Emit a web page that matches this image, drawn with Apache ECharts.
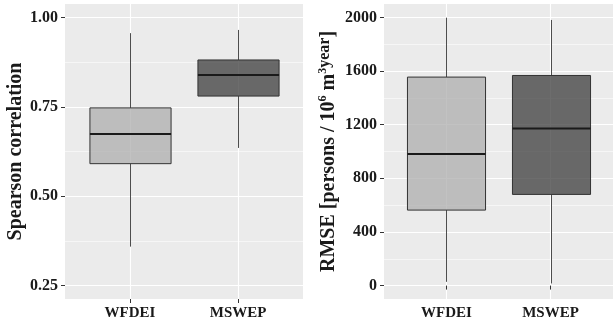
<!DOCTYPE html>
<html>
<head>
<meta charset="utf-8">
<script src="https://cdn.jsdelivr.net/npm/echarts@6/dist/echarts.min.js"></script>
<style>
  html, body { margin: 0; padding: 0; background: #fff; }
  #main { width: 613px; height: 326px; }
</style>
</head>
<body>
<div id="main"></div>
<script>
// categories along x, one box per category
var categories = ['WFDEI', 'MSWEP'];
// box stats: [min, Q1, median, Q3, max]
var corrStats = [
  [0.359, 0.591, 0.674, 0.747, 0.956],
  [0.635, 0.780, 0.839, 0.881, 0.965]
];
var rmseStats = [
  [28, 563, 982, 1555, 1998],
  [16, 680, 1171, 1567, 1981]
];
var corrTicks = [0.25, 0.5, 0.75, 1.0];
var corrMinor = [0.375, 0.625, 0.875];
var rmseTicks = [0, 400, 800, 1200, 1600, 2000];
var rmseMinor = [200, 600, 1000, 1400, 1800];

var boxFill = ['rgba(171,171,171,0.72)', 'rgba(52,52,52,0.72)'];
var serif = 'Liberation Serif';
var textCol = '#1a1a1a';

function toData(stats) {
  return stats.map(function(s, i) { return [i + 1].concat(s); });
}

function renderBox(params, api) {
  var x = api.value(0);
  var lo = api.coord([x, api.value(1)]);
  var q1 = api.coord([x, api.value(2)]);
  var md = api.coord([x, api.value(3)]);
  var q3 = api.coord([x, api.value(4)]);
  var hi = api.coord([x, api.value(5)]);
  var half = api.size([0.75, 0])[0] / 2;
  var cx = Math.round(lo[0]) + 0.5;
  return {
    type: 'group',
    children: [
      { type: 'line', shape: { x1: cx, y1: lo[1], x2: cx, y2: q1[1] }, style: { stroke: '#4d4d4d', lineWidth: 1 } },
      { type: 'line', shape: { x1: cx, y1: q3[1], x2: cx, y2: hi[1] }, style: { stroke: '#4d4d4d', lineWidth: 1 } },
      { type: 'rect', shape: { x: cx - half, y: q3[1], width: half * 2, height: q1[1] - q3[1] },
        style: { fill: boxFill[params.dataIndex], stroke: '#333', lineWidth: 1 } },
      { type: 'line', shape: { x1: cx - half, y1: md[1], x2: cx + half, y2: md[1] }, style: { stroke: '#1a1a1a', lineWidth: 2 } }
    ]
  };
}

function xAxisFor(gridIndex) {
  return {
    type: 'value', gridIndex: gridIndex, min: 0.4, max: 2.6,
    axisLine: { show: false },
    axisTick: { show: true, customValues: [1, 2], length: 4, lineStyle: { color: '#333' } },
    axisLabel: {
      customValues: [1, 2], margin: 7,
      formatter: function(v) { return categories[Math.round(v) - 1]; },
      fontFamily: serif, fontWeight: 'bold', fontSize: 15, color: textCol
    },
    splitLine: { show: true, lineStyle: { color: '#fff', width: 1.1 } }
  };
}

function minorAxis(gridIndex, min, max, vals) {
  return {
    type: 'value', gridIndex: gridIndex, min: min, max: max,
    axisLine: { show: false },
    axisTick: { show: false, customValues: vals },
    axisLabel: { show: false, customValues: vals },
    splitLine: { show: true, lineStyle: { color: '#fff', width: 0.55 } }
  };
}

var option = {
  animation: false,
  backgroundColor: '#fff',
  grid: [
    { left: 65, right: 310, top: 4, bottom: 27, show: true, backgroundColor: '#ebebeb', borderWidth: 0 },
    { left: 384, right: -4, top: 4, bottom: 27, show: true, backgroundColor: '#ebebeb', borderWidth: 0 }
  ],
  xAxis: [xAxisFor(0), xAxisFor(1)],
  yAxis: [
    minorAxis(0, 0.2125, 1.0375, corrMinor),
    {
      type: 'value', gridIndex: 0, min: 0.2125, max: 1.0375, position: 'left',
      name: 'Spearson correlation', nameLocation: 'middle', nameGap: 36,
      nameTextStyle: { fontFamily: serif, fontWeight: 'bold', fontSize: 20, color: textCol },
      axisLine: { show: false },
      axisTick: { show: true, customValues: corrTicks, length: 4, lineStyle: { color: '#333' } },
      axisLabel: {
        customValues: corrTicks, margin: 7,
        formatter: function(v) { return v.toFixed(2); },
        fontFamily: serif, fontWeight: 'bold', fontSize: 16, color: textCol
      },
      splitLine: { show: true, lineStyle: { color: '#fff', width: 1.1 } }
    },
    minorAxis(1, -100, 2100, rmseMinor),
    {
      type: 'value', gridIndex: 1, min: -100, max: 2100, position: 'left',
      name: 'RMSE [persons / 10{sup|6} m{sup|3}{yr|year}]', nameLocation: 'middle', nameGap: 36,
      nameTextStyle: {
        fontFamily: serif, fontWeight: 'bold', fontSize: 20, color: textCol, lineHeight: 24,
        rich: {
          sup: { fontFamily: serif, fontWeight: 'bold', fontSize: 12, color: textCol, verticalAlign: 'top', lineHeight: 12 },
          yr: { fontFamily: serif, fontWeight: 'bold', fontSize: 16, color: textCol, verticalAlign: 'top', lineHeight: 18 }
        }
      },
      axisLine: { show: false },
      axisTick: { show: true, customValues: rmseTicks, length: 4, lineStyle: { color: '#333' } },
      axisLabel: {
        customValues: rmseTicks, margin: 7,
        formatter: function(v) { return String(v); },
        fontFamily: serif, fontWeight: 'bold', fontSize: 16, color: textCol
      },
      splitLine: { show: true, lineStyle: { color: '#fff', width: 1.1 } }
    }
  ],
  series: [
    {
      type: 'custom', name: 'Spearson correlation', xAxisIndex: 0, yAxisIndex: 1, z: 5,
      renderItem: renderBox, encode: { x: 0, y: [1, 2, 3, 4, 5] },
      data: toData(corrStats)
    },
    {
      type: 'custom', name: 'RMSE', xAxisIndex: 1, yAxisIndex: 3, z: 5,
      renderItem: renderBox, encode: { x: 0, y: [1, 2, 3, 4, 5] },
      data: toData(rmseStats)
    }
  ]
};

var chart = echarts.init(document.getElementById('main'));
chart.setOption(option);
</script>
</body>
</html>
